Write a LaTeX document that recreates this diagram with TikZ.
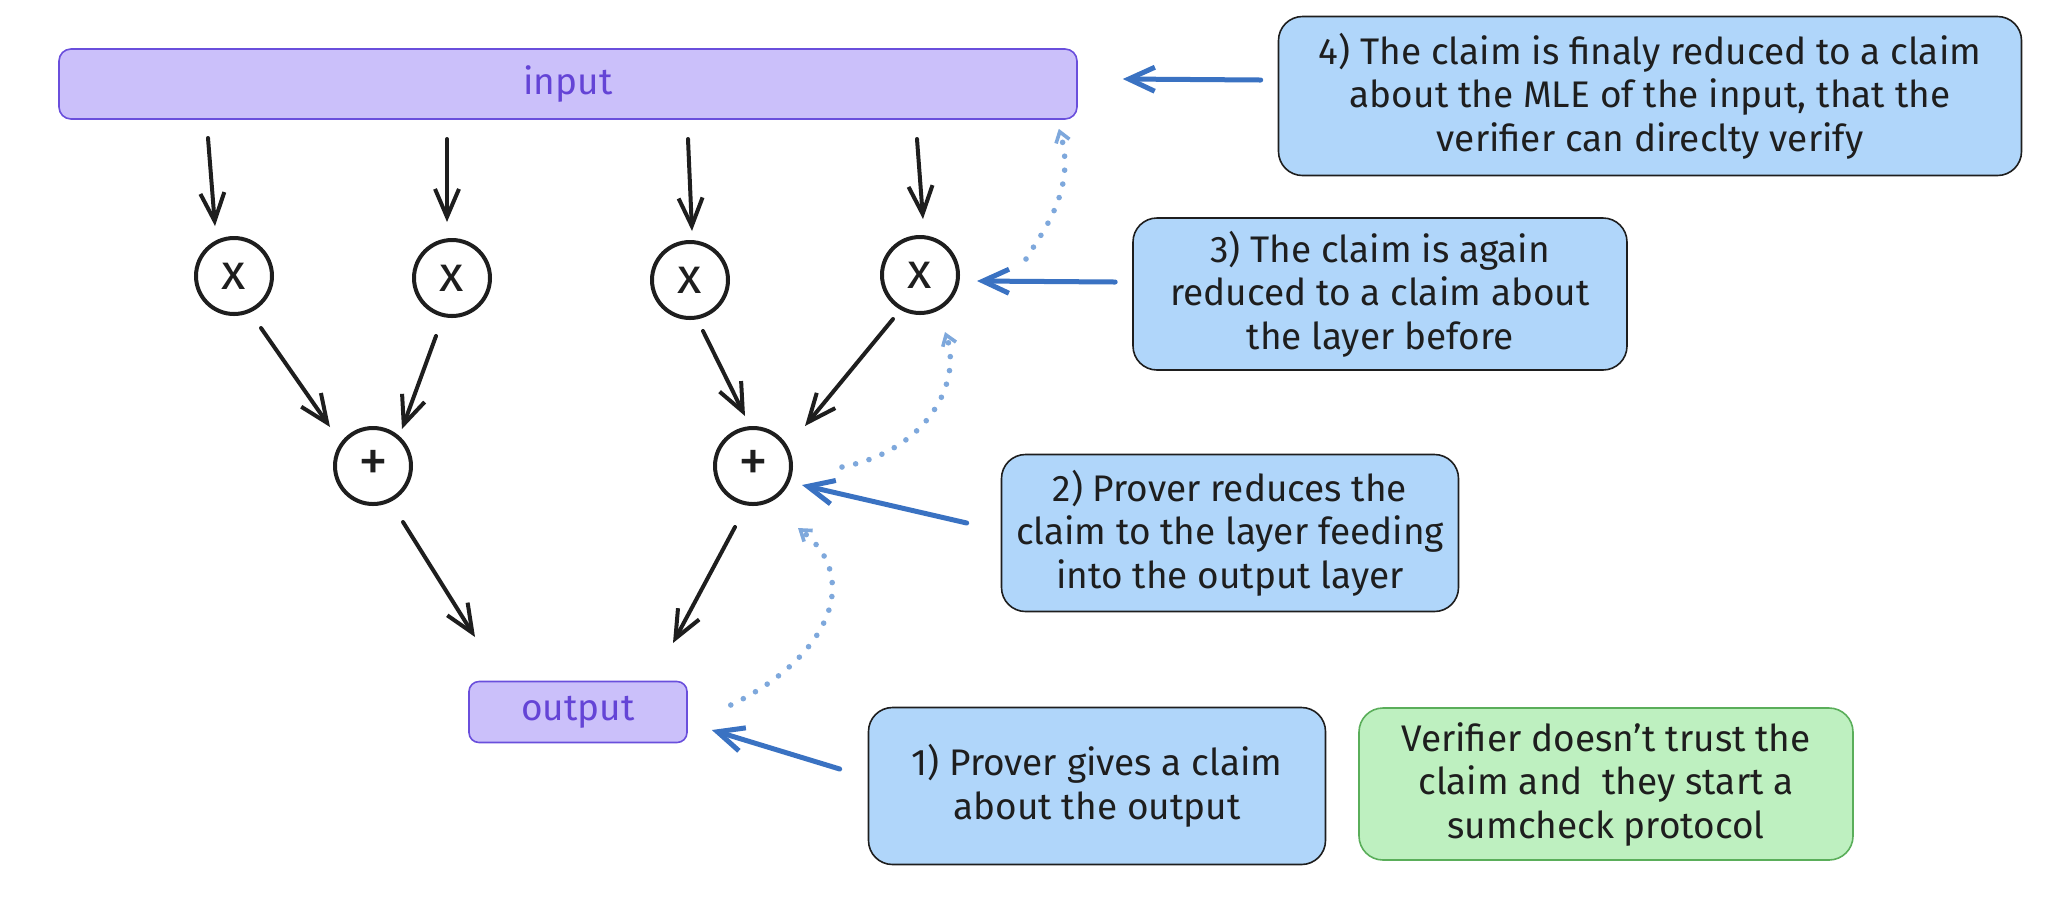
\documentclass[tikz,border=0pt]{standalone}
\usepackage{fontspec}
\setmainfont{Fira Sans}
\usetikzlibrary{arrows.meta}
\definecolor{ink}{HTML}{1E1E1E}
\definecolor{claimblue}{HTML}{B0D6FA}
\definecolor{greenfill}{HTML}{BEF0C0}
\definecolor{greenline}{HTML}{5AAE5A}
\definecolor{violetfill}{HTML}{CBC0FA}
\definecolor{violetline}{HTML}{6A4FDC}
\definecolor{violettext}{HTML}{6444D6}
\definecolor{arrowblue}{HTML}{3A72C2}
\definecolor{dotblue}{HTML}{7EA8DC}
\begin{document}
\begin{tikzpicture}[x=0.5pt,y=-0.5pt,
  txt/.style={font=\fontsize{18.5}{21.75}\selectfont, text=ink, align=center},
  layer/.style={rectangle, draw=violetline, line width=0.8pt, fill=violetfill, text=violettext, font=\fontsize{18.5}{20}\selectfont, inner sep=0pt},
  gate/.style={circle, draw=ink, line width=2pt, minimum size=38pt, inner sep=0pt, text=ink},
  mul/.style={gate, font=\fontsize{25}{25}\selectfont},
  add/.style={gate, font=\fontsize{30}{30}\selectfont},
  claim/.style={txt, rectangle, rounded corners=12pt, draw=ink, line width=0.8pt, fill=claimblue, inner sep=0pt},
  note/.style={txt, rectangle, rounded corners=12pt, draw=greenline, line width=0.8pt, fill=greenfill, inner sep=0pt},
  flow/.style={draw=ink, line width=2pt, line cap=round, -{Straight Barb[length=14pt,width=12pt]}},
  point/.style={draw=arrowblue, line width=2.5pt, line cap=round, -{Straight Barb[length=13pt,width=12pt]}},
  trace/.style={draw=dotblue, line width=2.8pt, line cap=round, dash pattern=on 0pt off 7pt, -{Straight Barb[length=5pt,width=7pt,line width=1.8pt]}}
]
\useasboundingbox (0,0) rectangle (2072,902);

% layers
\node[layer, rounded corners=6pt, minimum width=509pt, minimum height=35pt] (input) at (568,84) {input};
\node[layer, rounded corners=5pt, minimum width=109pt, minimum height=30.5pt] (output) at (578,712) {output};

% gates
\node[mul] (x1) at (234,276) {x};
\node[mul] (x2) at (452,278) {x};
\node[mul] (x3) at (690,280) {x};
\node[mul] (x4) at (920,275) {x};
\node[add] (p1) at (373,466) {+};
\node[add] (p2) at (753,466) {+};

% claim boxes
\node[claim, minimum width=228.5pt, minimum height=78.5pt] (b1) at (1097,786) {1) Prover gives a claim\\about the output};
\node[claim, minimum width=228.5pt, minimum height=78.5pt] (b2) at (1230,533) {2) Prover reduces the\\claim to the layer feeding\\into the output layer};
\node[claim, minimum width=247pt, minimum height=76pt] (b3) at (1380,294) {3) The claim is again\\reduced to a claim about\\the layer before};
\node[claim, minimum width=371.5pt, minimum height=79.5pt] (b4) at (1650,96) {4) The claim is finaly reduced to a claim\\about the MLE of the input, that the\\verifier can direclty verify};
\node[note, minimum width=247pt, minimum height=76pt] (g) at (1606,784) {Verifier doesn't trust the\\claim and~ they start a\\sumcheck protocol};

% circuit arrows
\draw[flow] ([shift={(-360,54)}]input.center) -- ([shift={(-19,-50)}]x1.center);
\draw[flow] ([shift={(-121,55)}]input.center) -- ([shift={(-5,-56)}]x2.center);
\draw[flow] ([shift={(120,55)}]input.center) -- ([shift={(2,-49)}]x3.center);
\draw[flow] ([shift={(349,55)}]input.center) -- ([shift={(3,-56)}]x4.center);
\draw[flow] ([shift={(27,52)}]x1.center) -- ([shift={(-43,-39)}]p1.center);
\draw[flow] ([shift={(-16,58)}]x2.center) -- ([shift={(29,-37)}]p1.center);
\draw[flow] ([shift={(13,51)}]x3.center) -- ([shift={(-8,-50)}]p2.center);
\draw[flow] ([shift={(-27,44)}]x4.center) -- ([shift={(52,-40)}]p2.center);
\draw[flow] ([shift={(30,56)}]p1.center) -- ([shift={(-103,-75)}]output.center);
\draw[flow] ([shift={(-18,61)}]p2.center) -- ([shift={(95,-69)}]output.center);

% claim pointers
\draw[point] ([shift={(-28,-17)}]b1.west) -- ([shift={(24,18)}]output.east);
\draw[point] ([shift={(-34,-10)}]b2.west) -- ([shift={(9,19)}]p2.east);
\draw[point] ([shift={(-17,-12)}]b3.west) -- ([shift={(17,6)}]x4.east);
\draw[point] ([shift={(-17,-16)}]b4.west) -- ([shift={(45,-5)}]input.east);

% dotted traces
\draw[trace] ([shift={(43,-7)}]output.east) .. controls (825,660) and (865,580) .. ([shift={(45,62)}]p2.center);
\draw[trace] ([shift={(49,1)}]p2.east) .. controls (930,450) and (962,380) .. ([shift={(25,57)}]x4.center);
\draw[trace] ([shift={(66,-16)}]x4.east) .. controls (1040,235) and (1078,190) .. ([shift={(-19,9)}]input.south east);
\end{tikzpicture}
\end{document}
